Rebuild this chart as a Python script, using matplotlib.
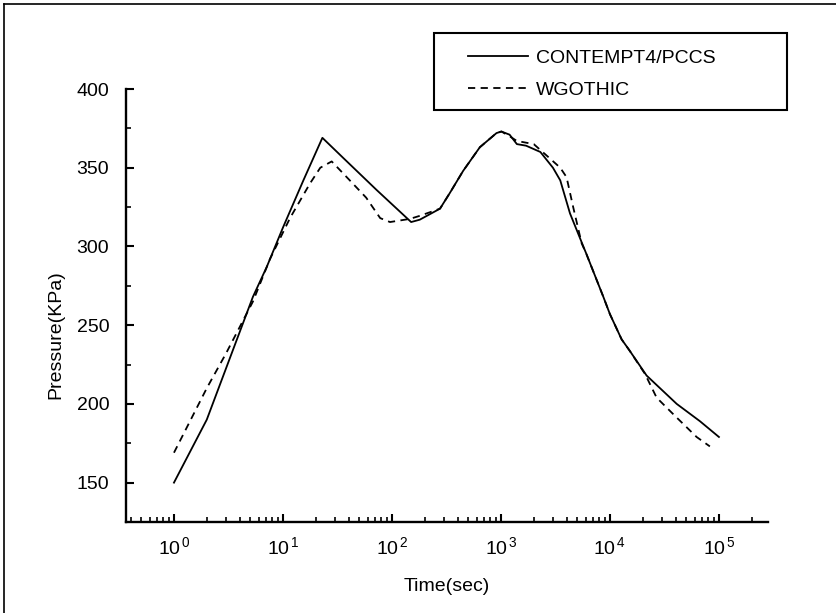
import numpy as np
import matplotlib
matplotlib.use('Agg')
import matplotlib.pyplot as plt
from matplotlib.ticker import LogLocator, NullFormatter, MultipleLocator
from matplotlib.lines import Line2D
from matplotlib.patches import Rectangle

# ---------------- data ----------------
time_contempt = [1, 2, 5.3, 7.1, 10, 15.4, 23, 36, 72, 150, 180, 276, 340, 450,
                 640, 910, 1010, 1200, 1400, 1700, 2300, 3000, 3500, 4300, 6100,
                 8700, 10000, 12800, 15100, 21700, 41000, 67000, 100000]
p_contempt = [150, 190, 268, 287, 312, 342, 369, 356, 336, 315.5, 317, 324, 334, 348,
              363, 372, 373, 371, 365, 364, 360, 350, 342, 321, 295,
              268, 257, 241, 234, 218, 200, 189, 179]

time_wgothic = [1, 2, 3, 5.3, 7.6, 11.6, 17.7, 22, 28, 41, 58, 78, 96, 146, 181,
                276, 340, 450, 640, 910, 1010, 1200, 1400, 2000, 2600, 3500, 4000,
                4600, 5500, 6100, 8700, 10000, 12800, 15100, 21000, 26800, 39500,
                62400, 82600]
p_wgothic = [169, 210, 232, 265, 292, 318, 340, 350, 354, 342, 331, 318, 315.5, 317.5, 319.5,
             324, 334, 348, 363, 372, 373, 370, 367, 365, 358, 350, 344,
             325, 302, 295, 268, 257, 241, 234, 219, 204, 192.4,
             179, 173]

series_labels = ['CONTEMPT4/PCCS', 'WGOTHIC']
x_ticks = [1, 10, 100, 1000, 10000, 100000]
x_tick_labels = [r'$\mathregular{10^{\,0}}$', r'$\mathregular{10^{\,1}}$',
                 r'$\mathregular{10^{\,2}}$', r'$\mathregular{10^{\,3}}$',
                 r'$\mathregular{10^{\,4}}$', r'$\mathregular{10^{\,5}}$']
y_ticks = [150, 200, 250, 300, 350, 400]
x_label = 'Time(sec)'
y_label = 'Pressure(KPa)'

# ---------------- style ----------------
plt.rcParams['font.family'] = ['Liberation Sans', 'DejaVu Sans']
plt.rcParams['mathtext.fontset'] = 'custom'
plt.rcParams['mathtext.rm'] = 'Liberation Sans'
plt.rcParams['mathtext.it'] = 'Liberation Sans:italic'
plt.rcParams['mathtext.bf'] = 'Liberation Sans:bold'

FS = 14
W, H = 836, 613
fig = plt.figure(figsize=(W / 100, H / 100), dpi=100)
ax_l, ax_r, ax_t, ax_b = 126, 768, 89, 522
ax = fig.add_axes([ax_l / W, 1 - ax_b / H, (ax_r - ax_l) / W, (ax_b - ax_t) / H])

ax.plot(time_contempt, p_contempt, color='black', lw=1.3, label=series_labels[0])
ax.plot(time_wgothic, p_wgothic, color='black', lw=1.3, dashes=(4, 3),
        label=series_labels[1])

ax.set_xscale('log')
ax.set_xlim(0.363, 2.82e5)
ax.set_ylim(125, 400)

for s in ['top', 'right']:
    ax.spines[s].set_visible(False)
for s in ['left', 'bottom']:
    ax.spines[s].set_linewidth(1.7)

ax.set_xticks(x_ticks)
ax.set_xticklabels(x_tick_labels)
ax.xaxis.set_minor_locator(LogLocator(base=10, subs=np.arange(2, 10), numticks=30))
ax.xaxis.set_minor_formatter(NullFormatter())
ax.set_yticks(y_ticks)
ax.yaxis.set_minor_locator(MultipleLocator(25))

ax.tick_params(which='major', direction='in', length=6, width=1.5, labelsize=FS)
ax.tick_params(which='minor', direction='in', length=3.5, width=1.2)
ax.tick_params(axis='x', which='major', pad=10)
ax.tick_params(axis='y', which='major', pad=12)

ax.set_xlabel(x_label, fontsize=FS, va='center')
ax.xaxis.set_label_coords(0.5, -0.150)
ax.set_ylabel(y_label, fontsize=FS, va='center')
ax.yaxis.set_label_coords(-0.110, 0.432)

leg = ax.legend(frameon=False, loc='center left',
                bbox_to_anchor=(468 / W, 1 - 74 / H), bbox_transform=fig.transFigure,
                borderpad=0, borderaxespad=0, handlelength=3.1, handletextpad=0.4,
                labelspacing=0.72, fontsize=FS)

# legend box
fig.add_artist(Rectangle((434 / W, 1 - 110 / H), (787 - 434) / W, (110 - 33) / H,
                         transform=fig.transFigure, fill=False, lw=1.5, ec='black'))
# page frame (top and left edges)
fig.add_artist(Line2D([4 / W, 1], [1 - 4 / H, 1 - 4 / H], transform=fig.transFigure,
                      color='black', lw=1.2))
fig.add_artist(Line2D([4 / W, 4 / W], [0, 1 - 4 / H], transform=fig.transFigure,
                      color='black', lw=1.2))

fig.savefig('out.png', dpi=100)
